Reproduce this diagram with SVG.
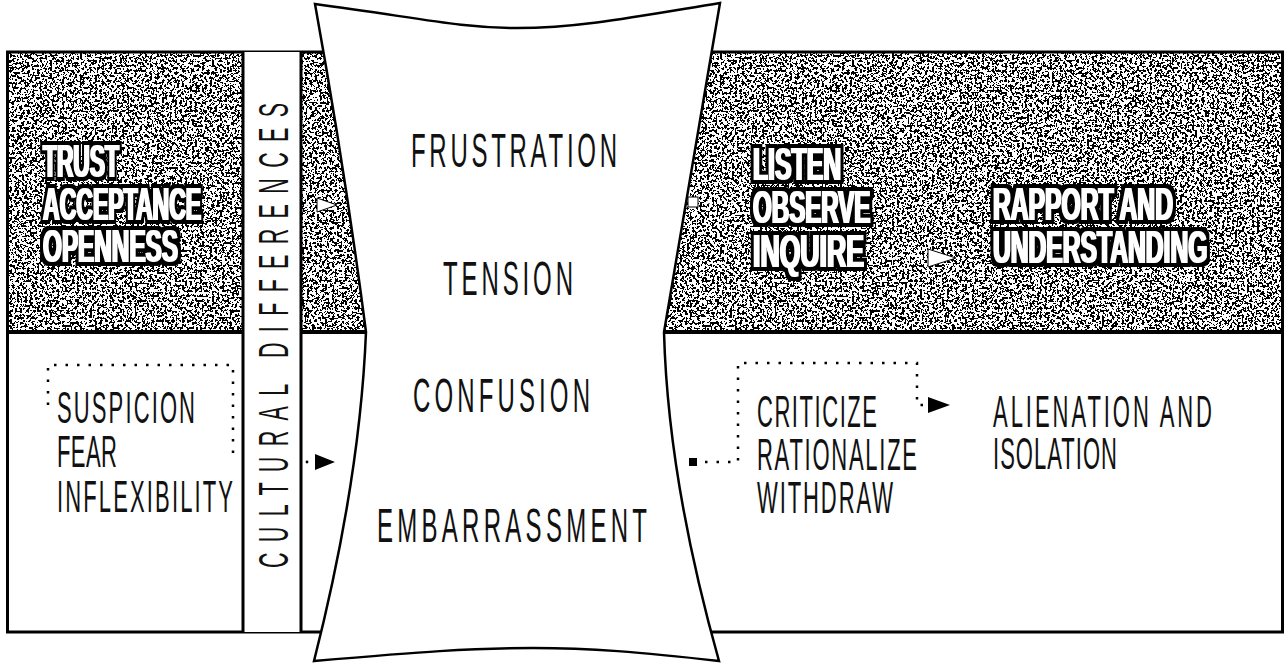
<svg xmlns="http://www.w3.org/2000/svg" width="1287" height="663" viewBox="0 0 1287 663">
<defs>
  <filter id="grain" x="0" y="0" width="1" height="1" color-interpolation-filters="sRGB">
    <feTurbulence type="fractalNoise" baseFrequency="0.4" numOctaves="3" seed="7" result="t"/>
    <feColorMatrix in="t" type="matrix" values="0.5 0.5 0 0 0.015  0.5 0.5 0 0 0.015  0.5 0.5 0 0 0.015  0 0 0 0 1"/>
    <feComponentTransfer>
      <feFuncR type="discrete" tableValues="0 1"/>
      <feFuncG type="discrete" tableValues="0 1"/>
      <feFuncB type="discrete" tableValues="0 1"/>
    </feComponentTransfer>
  </filter>
  <filter id="outline" x="-0.1" y="-0.3" width="1.2" height="1.6" color-interpolation-filters="sRGB">
    <feMorphology in="SourceAlpha" operator="dilate" radius="7 3.5" result="back"/>
    <feMorphology in="SourceGraphic" operator="dilate" radius="1.2 0.3" result="fat"/>
    <feMerge>
      <feMergeNode in="back"/>
      <feMergeNode in="fat"/>
    </feMerge>
  </filter>
  <style>
    .thin { font-family: "Liberation Sans", Arial, sans-serif; fill: #111; }
    .c48 { font-size: 48px; }
    .c44 { font-size: 44px; }
    .bold { font-family: "Liberation Sans", Arial, sans-serif; font-weight: bold; font-size: 47px; fill: #fff; filter: url(#outline); }
    .edge { fill: none; stroke: #000; stroke-width: 3; }
    .dotk { fill: none; stroke: #000; stroke-width: 2.5; stroke-dasharray: 2.5 9; }
    .dotw { fill: none; stroke: #fff; stroke-width: 3; stroke-dasharray: 3 9; }
  </style>
</defs>
<rect width="1287" height="663" fill="#fff"/>

<g id="panels">
  <rect x="7" y="52" width="1276" height="280" fill="#888" filter="url(#grain)"/>
  <line x1="7" y1="332" x2="1283" y2="332" stroke="#000" stroke-width="4"/>
  <rect x="7.5" y="52" width="1275" height="580" class="edge"/>
</g>

<g id="strip">
  <rect x="243" y="52" width="58" height="580" fill="#fff"/>
  <line x1="243" y1="52" x2="243" y2="632" stroke="#000" stroke-width="3"/>
  <line x1="301" y1="52" x2="301" y2="632" stroke="#000" stroke-width="3"/>
  <text class="thin" font-size="43" transform="translate(288,335.5) rotate(-90) scale(0.5,1)" text-anchor="middle" textLength="930" lengthAdjust="spacing">CULTURAL DIFFERENCES</text>
</g>

<g id="center">
  <path d="M315,4 C420,18 460,28 517,28 C580,28 640,16 720,3 Q692,170 664,332 Q668,480 719,661 C640,652 590,648 533,648 C470,648 420,652 314,661 Q360,480 366,332 Q345,170 315,4 Z" fill="#fff" stroke="#000" stroke-width="2.5"/>
  <text class="thin c48" transform="translate(411,167) scale(0.5,1)" textLength="412" lengthAdjust="spacing">FRUSTRATION</text>
  <text class="thin c48" transform="translate(443,295) scale(0.5,1)" textLength="260" lengthAdjust="spacing">TENSION</text>
  <text class="thin c48" transform="translate(413,412) scale(0.5,1)" textLength="354" lengthAdjust="spacing">CONFUSION</text>
  <text class="thin c48" transform="translate(377,542) scale(0.5,1)" textLength="540" lengthAdjust="spacing">EMBARRASSMENT</text>
</g>

<g id="positive-left">
  <text class="bold" transform="translate(43,177) scale(0.485,1)">TRUST</text>
  <text class="bold" transform="translate(43,220) scale(0.49,1)">ACCEPTANCE</text>
  <text class="bold" transform="translate(43,262) scale(0.517,1)">OPENNESS</text>
</g>

<g id="negative-left">
  <text class="thin c44" transform="translate(57,423) scale(0.5,1)" textLength="276" lengthAdjust="spacing">SUSPICION</text>
  <text class="thin c44" transform="translate(57,467) scale(0.5,1)" textLength="120" lengthAdjust="spacing">FEAR</text>
  <text class="thin c44" transform="translate(57,512) scale(0.5,1)" textLength="352" lengthAdjust="spacing">INFLEXIBILITY</text>
</g>

<g id="positive-right">
  <text class="bold" transform="translate(753,180) scale(0.527,1)">LISTEN</text>
  <text class="bold" transform="translate(753,223) scale(0.513,1)">OBSERVE</text>
  <text class="bold" transform="translate(753,267) scale(0.567,1)">INQUIRE</text>
</g>

<g id="positive-outcome">
  <text class="bold" transform="translate(993,220) scale(0.525,1)">RAPPORT AND</text>
  <text class="bold" transform="translate(993,263) scale(0.524,1)">UNDERSTANDING</text>
</g>

<g id="negative-right">
  <text class="thin c44" transform="translate(757,427) scale(0.5,1)" textLength="240" lengthAdjust="spacing">CRITICIZE</text>
  <text class="thin c44" transform="translate(757,470) scale(0.5,1)" textLength="320" lengthAdjust="spacing">RATIONALIZE</text>
  <text class="thin c44" transform="translate(757,513) scale(0.5,1)" textLength="272" lengthAdjust="spacing">WITHDRAW</text>
</g>

<g id="negative-outcome">
  <text class="thin c44" transform="translate(993,427) scale(0.5,1)" textLength="438" lengthAdjust="spacing">ALIENATION AND</text>
  <text class="thin c44" transform="translate(993,469) scale(0.5,1)" textLength="248" lengthAdjust="spacing">ISOLATION</text>
</g>

<g id="connectors">
  <path class="dotk" d="M48,405 V365 H233 V462"/>
  <circle cx="307" cy="462" r="1.4" fill="#000"/>
  <path d="M315,454 L335,462 L315,470 Z" fill="#000"/>
  <circle cx="306" cy="205" r="1.6" fill="#fff"/>
  <path d="M317,198 L337,205 L317,212 Z" fill="#fff" stroke="#000" stroke-width="1"/>
  <rect x="688" y="197" width="10" height="10" fill="#fff" stroke="#000" stroke-width="1"/>
  <path class="dotw" d="M707,202 H740"/>
  <path class="dotw" d="M895,258 H922"/>
  <path d="M928,249 L956,258 L928,267 Z" fill="#fff" stroke="#000" stroke-width="1"/>
  <rect x="689" y="458" width="8" height="8" fill="#000"/>
  <path class="dotk" d="M705,462 H738 V363 H917 V405 H924"/>
  <path d="M928,397 L950,405 L928,413 Z" fill="#000"/>
</g>
</svg>
